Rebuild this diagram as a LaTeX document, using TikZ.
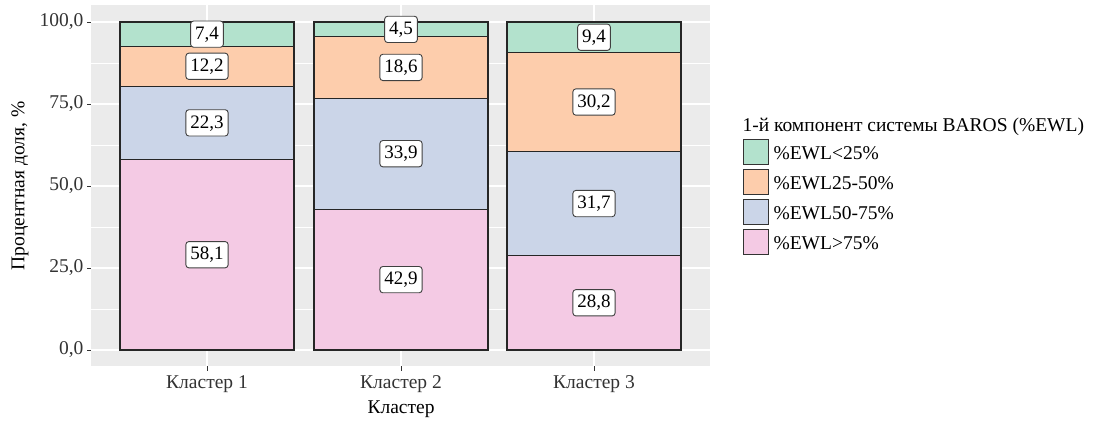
\documentclass[tikz,border=0pt]{standalone}
\usepackage{fontspec}
\setmainfont{Liberation Serif}
\definecolor{pgreen}{HTML}{B3E2CD}
\definecolor{porange}{HTML}{FDCDAC}
\definecolor{pblue}{HTML}{CBD5E8}
\definecolor{ppink}{HTML}{F4CAE4}
\definecolor{panelbg}{HTML}{EBEBEB}
\definecolor{axtext}{HTML}{333333}
\newcommand\barseg[6]{%
  \path[segbox, fill=#5] ({#2-87},{350-3.28*#3}) rectangle ({#2+87},{350-3.28*#4});
  \node[vlab] (#1) at (#2,{350-3.28*(#3+#4)/2}) {#6};}
\tikzset{
  segbox/.style={draw=black!85, line width=1.1pt},
  vlab/.style={fill=white, draw=black!75, line width=0.9pt, rounded corners=3pt,
    inner xsep=4.5pt, inner ysep=5pt, text height=13.3pt, text depth=3pt,
    font=\fontsize{19}{22}\selectfont},
  ytl/.style={anchor=east, text=axtext, font=\fontsize{19.5}{22}\selectfont},
  xtl/.style={text=axtext, font=\fontsize{19.5}{22}\selectfont},
  ttl/.style={font=\fontsize{19.5}{22}\selectfont},
  keybox/.style={draw=black!80, line width=1pt, minimum width=25pt, minimum height=25pt, inner sep=0pt},
  keylab/.style={anchor=west, font=\fontsize{19.5}{22}\selectfont},
  majgrid/.style={draw=white, line width=1.4pt},
  mingrid/.style={draw=white, line width=0.7pt},
  tick/.style={draw=axtext, line width=1pt}
}
\begin{document}
\begin{tikzpicture}[x=1pt,y=-1pt]
\useasboundingbox (0,0) rectangle (1102,423);
\fill[white] (0,0) rectangle (1102,423);
% panel
\fill[panelbg] (91,5) rectangle (710,366);
\foreach \v in {12.5,37.5,62.5,87.5} \draw[mingrid] (91,{350-3.28*\v}) -- (710,{350-3.28*\v});
\foreach \v in {0,25,50,75,100} \draw[majgrid] (91,{350-3.28*\v}) -- (710,{350-3.28*\v});
\foreach \xc in {207,401,594} \draw[majgrid] (\xc,5) -- (\xc,366);
% bars
\barseg{a1}{207}{0}{58.1}{ppink}{58,1}
\barseg{a2}{207}{58.1}{80.4}{pblue}{22,3}
\barseg{a3}{207}{80.4}{92.6}{porange}{12,2}
\barseg{a4}{207}{92.6}{100}{pgreen}{7,4}
\barseg{b1}{401}{0}{42.9}{ppink}{42,9}
\barseg{b2}{401}{42.9}{76.8}{pblue}{33,9}
\barseg{b3}{401}{76.8}{95.5}{porange}{18,6}
\barseg{b4}{401}{95.5}{100}{pgreen}{4,5}
\barseg{c1}{594}{0}{28.8}{ppink}{28,8}
\barseg{c2}{594}{28.8}{60.5}{pblue}{31,7}
\barseg{c3}{594}{60.5}{90.7}{porange}{30,2}
\barseg{c4}{594}{90.7}{100}{pgreen}{9,4}
% y axis ticks and labels
\foreach \v/\t in {0/{0,0},25/{25,0},50/{50,0},75/{75,0},100/{100,0}} {
  \draw[tick] (87,{350-3.28*\v}) -- (91,{350-3.28*\v});
  \node[ytl] (yl\v) at (87,{350-3.28*\v}) {\t};
}
% x axis ticks and labels
\foreach \xc/\t/\n in {207/{Кластер 1}/1,401/{Кластер 2}/2,594/{Кластер 3}/3} {
  \draw[tick] (\xc,366) -- (\xc,371);
  \node[xtl] (xl\n) at (\xc,384) {\t};
}
\node[ttl] (xtitle) at (401,409) {Кластер};
\node[ttl, rotate=90] (ytitle) at (20,186) {Процентная доля, \%};
% legend
\node[ttl, anchor=west] (legtitle) at (739,127) {1-й компонент системы BAROS (\%EWL)};
\node[keybox, fill=pgreen] (k1) at (756,151.5) {};
\node[keybox, fill=porange] (k2) at (756,181.5) {};
\node[keybox, fill=pblue] (k3) at (756,211.5) {};
\node[keybox, fill=ppink] (k4) at (756,241.5) {};
\node[keylab] (l1) at (770,153) {\%EWL<25\%};
\node[keylab] (l2) at (770,183) {\%EWL25-50\%};
\node[keylab] (l3) at (770,213) {\%EWL50-75\%};
\node[keylab] (l4) at (770,243) {\%EWL>75\%};
\end{tikzpicture}
\end{document}
